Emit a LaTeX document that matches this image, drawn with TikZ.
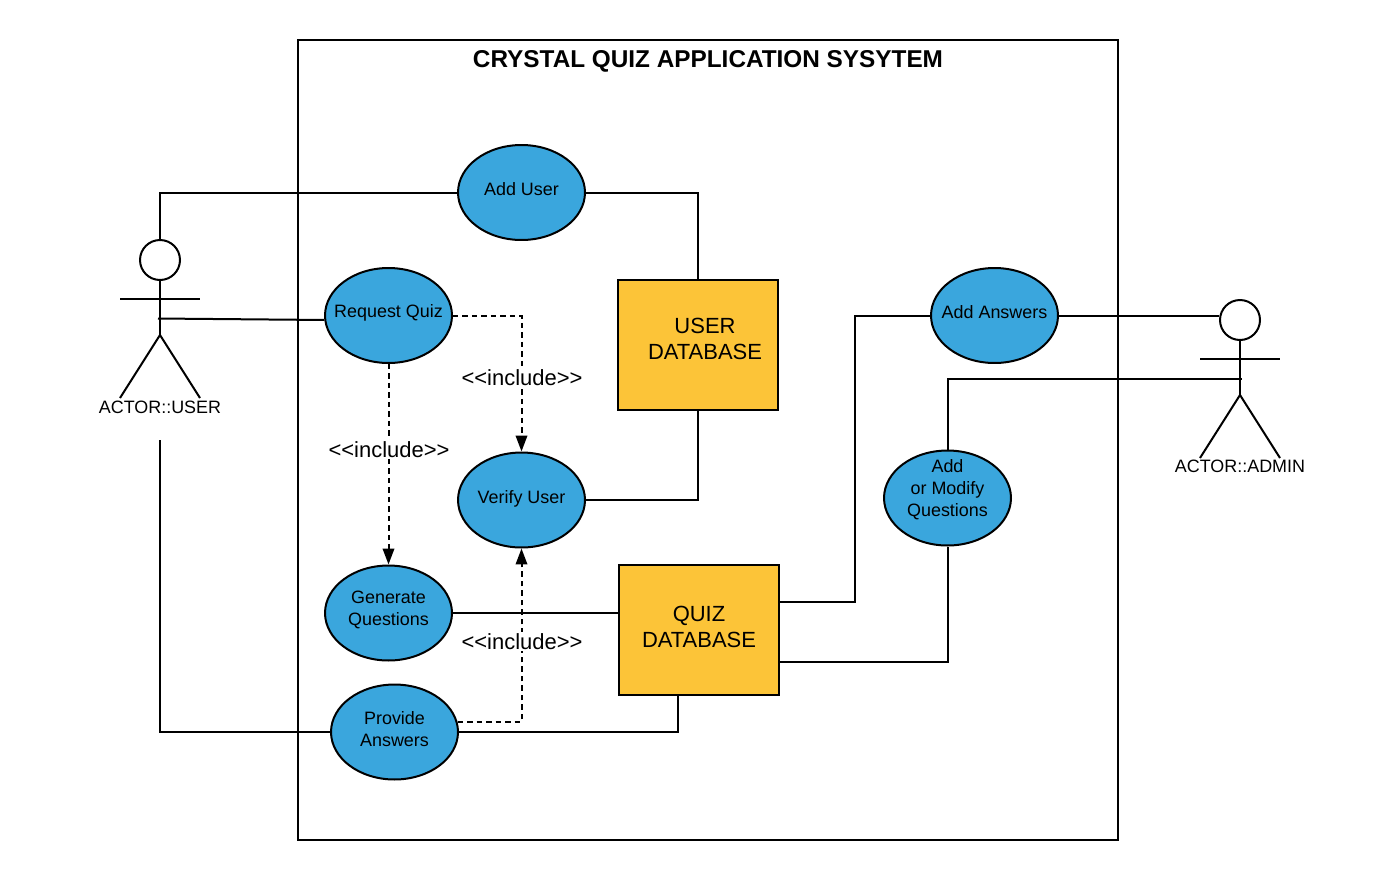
\documentclass[tikz,border=0pt]{standalone}
\usepackage{fontspec}
\setmainfont{Liberation Sans}
\usetikzlibrary{arrows.meta, positioning, shapes, shapes.geometric}
\definecolor{CaseBlue}{HTML}{3AA6DD}
\definecolor{StoreYellow}{HTML}{FCC438}
\tikzset{
    caseshape/.style={ellipse, draw=black, fill=CaseBlue, line width=0.04cm, minimum width=2.54cm, minimum height=1.9cm, inner sep=0pt},
    usecase/.style={caseshape, label={[casetext]center:#1}},
    casetext/.style={font=\fontsize{10.2}{12.5}\selectfont, align=center, yshift=0.06cm},
    storebox/.style={draw=black, fill=StoreYellow, line width=0.04cm, minimum width=3.2cm, minimum height=2.6cm},
    storetext/.style={font=\fontsize{12.5}{14.8}\selectfont, align=center},
    actorhead/.style={circle, draw=black, fill=white, line width=0.04cm, minimum size=0.8cm, inner sep=0pt},
    actortext/.style={font=\fontsize{10.2}{12.5}\selectfont},
    includetext/.style={fill=white, inner sep=1pt, font=\fontsize{12.5}{15}\selectfont},
    link/.style={line width=0.04cm},
    includelink/.style={line width=0.04cm, dash pattern=on 0.11cm off 0.08cm, -{Triangle[length=0.32cm,width=0.23cm]}},
}

\begin{document}
\begin{tikzpicture}[x=0.02cm, y=-0.02cm]

    \useasboundingbox (0,0) rectangle (1400,880);

    % System boundary
    \node[draw=black, line width=0.04cm, minimum width=16.4cm, minimum height=16cm, inner sep=0pt] (system) at (708,440) {};
    \node[font=\fontsize{13.85}{16}\selectfont\bfseries] (title) at (708,61) {CRYSTAL QUIZ APPLICATION SYSYTEM};

    % Use cases
    \node[usecase={Add User}] (adduser) at (521.5,192.5) {};
    \node[usecase={Request Quiz}] (requestquiz) at (388.5,315.5) {};
    \node[caseshape, label={[casetext, yshift=-0.04cm]center:Verify User}] (verifyuser) at (521.5,500) {};
    \node[usecase={Generate\\Questions}] (generate) at (388.5,613) {};
    \node[usecase={Provide\\Answers}] (provide) at (394.5,732) {};
    \node[usecase={Add Answers}] (addanswers) at (994.5,315.5) {};
    \node[caseshape, label={[casetext, yshift=0.1cm]center:Add\\or Modify\\Questions}] (addmodify) at (947.5,498) {};

    % Databases
    \node[storebox] (userdb) at (698,345) {};
    \node[storetext] (userdbtext) at (705,339) {USER\\DATABASE};
    \node[storebox] (quizdb) at (699,630) {};
    \node[storetext] (quizdbtext) at (699,627) {QUIZ\\DATABASE};

    % Actor user
    \node[actorhead] (userhead) at (160,260) {};
    \coordinate (userhip) at (160,335);
    \coordinate (userarml) at (120,299);
    \coordinate (userarmr) at (200,299);
    \coordinate (userlegl) at (120,398);
    \coordinate (userlegr) at (200,398);
    \coordinate (userwaist) at (158,318.5);
    \coordinate (userbelow) at (160,440);
    \draw[link] (userhead.south) -- (userhip);
    \draw[link] (userarml) -- (userarmr);
    \draw[link] (userlegl) -- (userhip) -- (userlegr);
    \node[actortext] (userlabel) at (160,407) {ACTOR::USER};

    % Actor admin
    \node[actorhead] (adminhead) at (1240,320) {};
    \coordinate (adminhip) at (1240,395);
    \coordinate (adminarml) at (1200,359);
    \coordinate (adminarmr) at (1280,359);
    \coordinate (adminlegl) at (1200,458);
    \coordinate (adminlegr) at (1280,458);
    \coordinate (adminwaist) at (1242,379);
    \draw[link] (adminhead.south) -- (adminhip);
    \draw[link] (adminarml) -- (adminarmr);
    \draw[link] (adminlegl) -- (adminhip) -- (adminlegr);
    \node[actortext] (adminlabel) at (1240,466) {ACTOR::ADMIN};

    % Include links
    \draw[includelink] (requestquiz.east) -| (verifyuser.north);
    \draw[includelink] (requestquiz.south) -- (generate.north);
    \draw[includelink] (provide.9) -| (verifyuser.south);
    \node[includetext] (includea) at (522,377.5) {<{}<include>{}>};
    \node[includetext] (includeb) at (389,449.5) {<{}<include>{}>};
    \node[includetext] (includec) at (522,641.5) {<{}<include>{}>};

    % Plain links
    \draw[link] (userhead.north) |- (adduser.west);
    \draw[link] (adduser.east) -| (userdb.north);
    \draw[link] (userwaist) -- (requestquiz.184);
    \draw[link] (verifyuser.east) -| (userdb.south);
    \draw[link] (generate.east) -- (generate.east -| quizdb.west);
    \draw[link] (provide.east) -| ([xshift=-0.42cm]quizdb.south);
    \draw[link] (userbelow) |- (provide.west);
    \draw[link] ([yshift=0.56cm]quizdb.east) -- ++(75.5,0) |- (addanswers.west);
    \draw[link] (addanswers.east) -- (addanswers.east -| adminhead.west);
    \draw[link] (addmodify.north) |- (adminwaist);
    \draw[link] ([yshift=-0.64cm]quizdb.east) -| (addmodify.south);

\end{tikzpicture}
\end{document}
